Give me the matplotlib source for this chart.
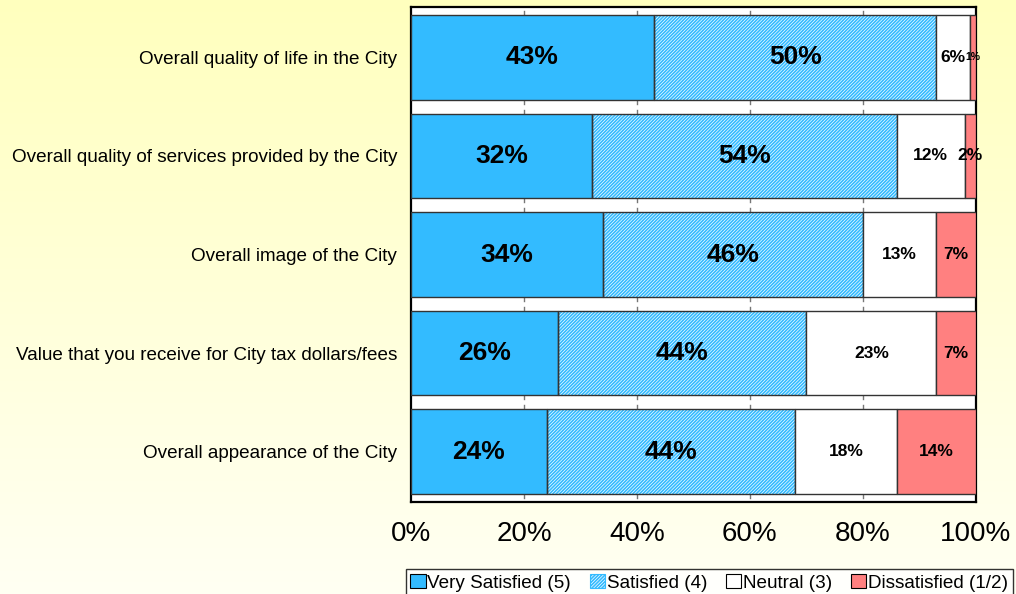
import matplotlib
matplotlib.use("Agg")
import matplotlib.pyplot as plt
from matplotlib.patches import Patch
import numpy as np

plt.rcParams["font.family"] = ["Liberation Sans", "DejaVu Sans"]
plt.rcParams["hatch.linewidth"] = 1.2

categories = [
    "Overall quality of life in the City",
    "Overall quality of services provided by the City",
    "Overall image of the City",
    "Value that you receive for City tax dollars/fees",
    "Overall appearance of the City",
]
series_names = ["Very Satisfied (5)", "Satisfied (4)", "Neutral (3)", "Dissatisfied (1/2)"]
very_satisfied = [43, 32, 34, 26, 24]
satisfied = [50, 54, 46, 44, 44]
neutral = [6, 12, 13, 23, 18]
dissatisfied = [1, 2, 7, 7, 14]
x_ticks = [0, 20, 40, 60, 80, 100]

series = [very_satisfied, satisfied, neutral, dissatisfied]
fills = ["#33BBFF", "white", "white", "#FF8080"]
hatches = [None, "//////////", None, None]
hatch_col = "#33BBFF"
label_sizes = [19, 19, 12.5, 12.5]
edge = "#333333"
bar_h = 0.857

fig = plt.figure(figsize=(10.16, 5.94), dpi=100)

# yellow gradient background
bg = fig.add_axes([0, 0, 1, 1], zorder=-10)
grad = np.linspace(0, 1, 256).reshape(-1, 1)
top = np.array([255, 255, 190]) / 255
bottom = np.array([255, 255, 243]) / 255
img = top + (bottom - top) * grad[:, :, None]
bg.imshow(img, aspect="auto", extent=[0, 1, 0, 1])
bg.axis("off")

ax = fig.add_axes([0.4045, 0.155, 0.556, 0.833])
ax.set_facecolor("white")

y = np.arange(len(categories))
left = np.zeros(len(categories))
for i, vals in enumerate(series):
    vals = np.array(vals, dtype=float)
    if hatches[i]:
        ax.barh(y, vals, left=left, height=bar_h, color="white",
                edgecolor=hatch_col, hatch=hatches[i], linewidth=0, zorder=2)
        ax.barh(y, vals, left=left, height=bar_h, fill=False,
                edgecolor=edge, linewidth=1, zorder=3)
    else:
        ax.barh(y, vals, left=left, height=bar_h, color=fills[i],
                edgecolor=edge, linewidth=1, zorder=3)
    for j, v in enumerate(vals):
        size = label_sizes[i] if v >= 2 else 7.5
        ax.text(left[j] + v / 2, y[j], f"{v:.0f}%", ha="center", va="center",
                fontsize=size, fontweight="bold", color="black", zorder=5)
    left = left + vals

# short tick marks in the gaps between bars
tick_len = 0.04
for t in x_ticks[1:-1]:
    for yy in y:
        ax.plot([t, t], [yy - bar_h / 2 - tick_len, yy - bar_h / 2], color="#777777", lw=1, zorder=1)
        ax.plot([t, t], [yy + bar_h / 2, yy + bar_h / 2 + tick_len], color="#777777", lw=1, zorder=1)

ax.set_xlim(0, 100)
ax.set_ylim(4.51, -0.51)
ax.set_yticks(y)
ax.set_yticklabels(categories, fontsize=13.6)
ax.tick_params(axis="y", length=0, pad=10)
ax.set_xticks(x_ticks)
ax.set_xticklabels([f"{t}%" for t in x_ticks], fontsize=20)
ax.tick_params(axis="x", length=0, pad=14)
for s in ax.spines.values():
    s.set_linewidth(1.6)
    s.set_color("black")

handles = [
    Patch(facecolor=fills[0], edgecolor="black", linewidth=0.8),
    Patch(facecolor="white", edgecolor=hatch_col, hatch="//////////", linewidth=0.8),
    Patch(facecolor="white", edgecolor="black", linewidth=0.8),
    Patch(facecolor=fills[3], edgecolor="black", linewidth=0.8),
]
leg = fig.legend(handles, series_names, loc="lower right", bbox_to_anchor=(0.997, -0.004),
                 ncol=4, fontsize=13.6, frameon=True, fancybox=False, handlelength=0.8,
                 handleheight=0.8, handletextpad=0.1, columnspacing=1.0, borderpad=0.25,
                 borderaxespad=0)
leg.get_frame().set_edgecolor("black")
leg.get_frame().set_linewidth(1.0)
leg.get_frame().set_facecolor("white")

fig.savefig("out.png", dpi=100)
